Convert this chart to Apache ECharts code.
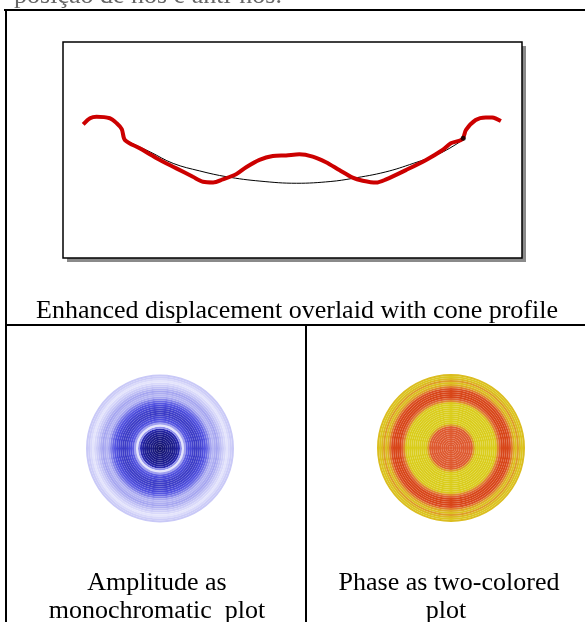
<!DOCTYPE html>
<html><head><meta charset="utf-8">
<script src="https://cdn.jsdelivr.net/npm/echarts@6/dist/echarts.min.js"></script>
<style>html,body{margin:0;padding:0;background:#fff}#c{width:585px;height:622px}</style>
</head><body><div id="c"></div>
<script>
// Enhanced displacement (red) — x: radial position (0..100), y: displacement (0..100)
const redX = [4.4,5.9,7.3,10.2,11.7,12.8,13.5,16.7,20.4,24.7,28.3,30.5,32.7,34.8,37.8,39.9,42.8,45.7,48.6,51.5,54.4,57.3,60.2,63.1,65.3,68.2,70.4,74.7,79.1,82.7,84.5,87.0,87.8,89.9,92.1,93.5,95.4];
const redY = [61.9,64.7,65.4,64.7,62.4,59.7,54.6,50.8,46.2,41.5,37.6,35.3,35.0,36.4,38.9,42.0,45.4,47.2,47.5,48.0,46.9,44.3,40.7,37.2,35.8,34.9,36.4,40.7,45.4,50.0,53.1,55.0,59.3,63.9,65.1,65.0,63.4];
// Cone profile (black)
const coneX = [13.5,19.0,24.0,29.8,35.7,42.9,50.9,58.2,63.2,70.2,76.3,82.1,86.5];
const coneY = [54.6,49.1,43.8,40.3,37.6,35.6,34.6,35.4,36.9,39.8,43.8,48.4,53.8];
const dotX = [87.2], dotY = [55.4];

// Radial rings (2 px steps from centre outward)
const ringRadius = [1,3,5,7,9,11,13,15,17,19,21,23,25,27,29,31,33,35,37,39,41,43,45,47,49,51,53,55,57,59,61,63,65,67,69,71,73];
const ampRing = [1.0,0.98,0.97,0.95,0.94,0.93,0.92,0.9,0.88,0.82,0.45,0.08,0.4,0.6,0.66,0.69,0.72,0.74,0.74,0.72,0.7,0.67,0.63,0.57,0.48,0.38,0.32,0.36,0.38,0.34,0.26,0.2,0.14,0.08,0.14,0.2,0.22];
const phaseRing = [0.9,0.9,0.9,0.9,0.9,0.9,0.9,0.9,0.9,0.9,0.85,0.35,0.02,0.0,0.0,0.0,0.0,0.0,0.0,0.0,0.0,0.0,0.05,0.5,0.85,1.0,1.0,1.0,1.0,0.95,0.6,0.25,0.1,0.35,0.15,0.05,0.12];

const texts = {
  top: 'posição de nós e anti-nós.',
  cap1: 'Enhanced displacement overlaid with cone profile',
  cap2a: 'Amplitude as', cap2b: 'monochromatic  plot',
  cap3a: 'Phase as two-colored', cap3b: 'plot'
};

function hex(c){return [parseInt(c.slice(1,3),16),parseInt(c.slice(3,5),16),parseInt(c.slice(5,7),16)];}
function ramp(stops, v){
  for(let i=1;i<stops.length;i++){
    if(v<=stops[i][0]){
      const a=stops[i-1], b=stops[i]; const t=(v-a[0])/(b[0]-a[0]||1);
      const ca=hex(a[1]), cb=hex(b[1]);
      return 'rgb('+ca.map((x,k)=>Math.round(x+(cb[k]-x)*t)).join(',')+')';
    }
  }
  return stops[stops.length-1][1];
}
const blueStops=[[0,'#f4f4ff'],[0.35,'#b0b0f2'],[0.65,'#5050e0'],[0.85,'#2626a8'],[1,'#12126a']];
const phaseStops=[[0,'#dacd1c'],[0.5,'#e08a2c'],[0.9,'#de5a30'],[1,'#d84619']];

const chart = echarts.init(document.getElementById('c'));
const serif = '"Liberation Serif","DejaVu Serif",serif';
function T(x,y,s,fill){return {type:'text',x:x,y:y,z:10,style:{text:s,font:'26px '+serif,fill:fill||'#000',align:'center',verticalAlign:'middle'}};}
function L(x1,y1,x2,y2){return {type:'line',z:10,shape:{x1,y1,x2,y2},style:{stroke:'#000',lineWidth:2}};}

chart.setOption({
  animation:false,
  backgroundColor:'#fff',
  grid:{left:63,top:42,width:459,height:216,show:true,backgroundColor:'#fff',borderColor:'#000',borderWidth:1.5,z:2},
  xAxis:{type:'value',min:0,max:100,show:false},
  yAxis:{type:'value',min:0,max:100,show:false},
  polar:[{center:[160,448.5],radius:74},{center:[451,448],radius:74}],
  angleAxis:[
    {polarIndex:0,type:'value',min:0,max:360,startAngle:90,show:false},
    {polarIndex:1,type:'value',min:0,max:360,startAngle:90,show:false}
  ],
  radiusAxis:[
    {polarIndex:0,type:'category',data:ringRadius,show:false},
    {polarIndex:1,type:'category',data:ringRadius,show:false}
  ],
  graphic:[
    {type:'rect',z:0,shape:{x:67,y:46,width:459,height:216},style:{fill:'#8a8a8a'}},
    L(4,10,585,10), L(6,9,6,622), L(5,325,585,325), L(306,325,306,622),
    {type:'text',x:148,y:-4,z:10,style:{text:texts.top,font:'26px '+serif,fill:'#666',align:'center',verticalAlign:'middle'}},
    T(297,311,texts.cap1),
    T(157,583,texts.cap2a), T(157,611,texts.cap2b),
    T(449,583,texts.cap3a), T(446,611,texts.cap3b)
  ],
  series:[
    {type:'line',data:coneX.map((x,i)=>[x,coneY[i]]),smooth:0.4,showSymbol:false,lineStyle:{color:'#000',width:1},z:3},
    {type:'line',data:redX.map((x,i)=>[x,redY[i]]),smooth:0.3,showSymbol:false,lineStyle:{color:'#cc0000',width:4},z:4},
    {type:'scatter',data:dotX.map((x,i)=>[x,dotY[i]]),symbolSize:5,itemStyle:{color:'#000'},z:5},
    {type:'bar',coordinateSystem:'polar',polarIndex:0,barCategoryGap:'0%',
     data:ampRing.map(v=>({value:360,itemStyle:{color:ramp(blueStops,v)}}))},
    {type:'bar',coordinateSystem:'polar',polarIndex:1,barCategoryGap:'0%',
     data:phaseRing.map(v=>({value:360,itemStyle:{color:ramp(phaseStops,v)}}))}
  ]
});
</script></body></html>
